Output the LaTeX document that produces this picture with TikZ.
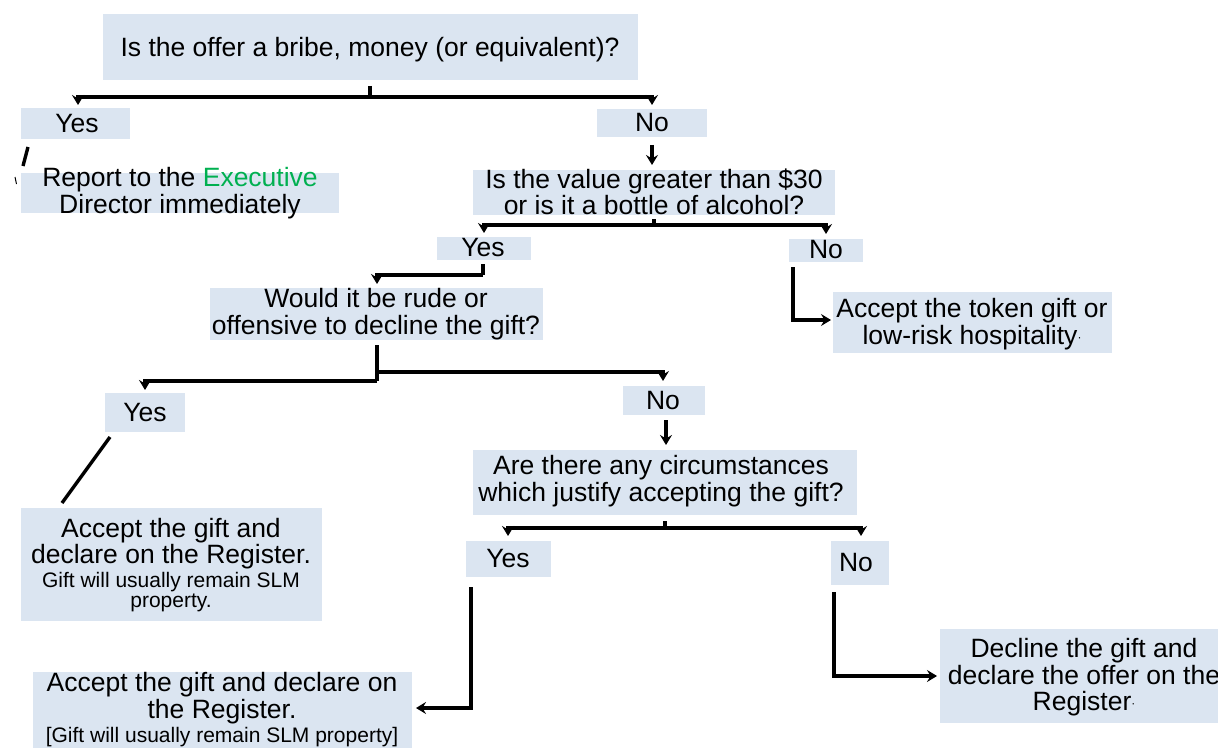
\documentclass[tikz,border=0pt]{standalone}
\usepackage{fontspec}
\setmainfont{Liberation Sans}
\usetikzlibrary{arrows.meta}
\definecolor{boxblue}{HTML}{DBE5F1}
\definecolor{execgreen}{HTML}{00B050}
\tikzset{
  box/.style={fill=boxblue, draw=none, inner sep=0pt, outer sep=0pt},
  txt/.style={align=center, inner sep=0pt, outer sep=0pt, font=\fontsize{26.5}{26.5}\selectfont},
  conn/.style={line width=3.4pt, line cap=butt, line join=miter},
  arr/.style={conn, -{Stealth[length=10pt,width=12pt,inset=3.5pt]}},
}
\newcommand{\smalltxt}{\fontsize{21}{22}\selectfont}
\newcommand{\mdot}{\raisebox{3pt}{\fontsize{12}{12}\selectfont ·}}
\begin{document}
\begin{tikzpicture}[x=1pt,y=-1pt]
\useasboundingbox (0,0) rectangle (1218,749);

% boxes
\node[box,minimum width=535pt,minimum height=66pt] (q1) at (370.5,47) {};
\node[box,minimum width=109pt,minimum height=31pt] (yes1) at (75.5,123.5) {};
\node[box,minimum width=110pt,minimum height=28pt] (no1) at (652,123) {};
\node[box,minimum width=318pt,minimum height=40pt] (rep) at (180,193) {};
\node[box,minimum width=362pt,minimum height=45pt] (q2) at (654,192.5) {};
\node[box,minimum width=94pt,minimum height=23pt] (yes2) at (484,248.5) {};
\node[box,minimum width=74pt,minimum height=23pt] (no2) at (826,250.5) {};
\node[box,minimum width=279pt,minimum height=61pt] (tok) at (972.5,322.5) {};
\node[box,minimum width=333pt,minimum height=52pt] (q3) at (376.5,314) {};
\node[box,minimum width=80pt,minimum height=39pt] (yes3) at (145,412.5) {};
\node[box,minimum width=82pt,minimum height=29pt] (no3) at (664,400.5) {};
\node[box,minimum width=384pt,minimum height=65pt] (q4) at (665,482.5) {};
\node[box,minimum width=85pt,minimum height=36pt] (yes4) at (508.5,559) {};
\node[box,minimum width=58pt,minimum height=44pt] (no4) at (860,563) {};
\node[box,minimum width=301pt,minimum height=113pt] (acc1) at (171.5,564.5) {};
\node[box,minimum width=379pt,minimum height=76pt] (acc2) at (222.5,710) {};
\node[box,minimum width=278pt,minimum height=94pt] (dec) at (1079,676) {};

% texts
\node[txt] (q1t) at (370,50) {Is the offer a bribe, money (or equivalent)?};
\node[txt] (yes1t) at (77,123.4) {Yes};
\node[txt] (no1t) at (652,122.5) {No};
\node[txt] (rept) at (180,193) {Report to the \textcolor{execgreen}{Executive}\\Director immediately};
\node[txt] (q2t) at (654,192) {Is the value greater than \$30\\or is it a bottle of alcohol?};
\node[txt] (yes2t) at (483,247.5) {Yes};
\node[txt] (no2t) at (826,249.5) {No};
\node[txt] (tokt) at (972,324) {Accept the token gift or\\low-risk hospitality\mdot};
\node[txt] (q3t) at (376,314) {Would it be rude or\\offensive to decline the gift?};
\node[txt] (yes3t) at (145,412.5) {Yes};
\node[txt] (no3t) at (663,400.5) {No};
\node[txt] (q4t) at (661,481) {Are there any circumstances\\which justify accepting the gift?};
\node[txt] (yes4t) at (508,559) {Yes};
\node[txt] (no4t) at (856,563) {No};
\node[txt] (acc1t) at (171,565) {Accept the gift and\\declare on the Register.\\[-3pt]{\smalltxt Gift will usually remain SLM}\\[-6pt]{\smalltxt property.}};
\node[txt] (acc2t) at (222,710) {Accept the gift and declare on\\the Register.\\[-2pt]{\smalltxt [Gift will usually remain SLM property]}};
\node[txt] (dect) at (1084,677.6) {Decline the gift and\\declare the offer on the\\Register\mdot};

% connector points
\coordinate (q1s) at (370,86);
\coordinate (q1j) at (370,97);
\coordinate (q1y) at (78,105);
\coordinate (q1n) at (652,105);
\coordinate (r1a) at (28,147);
\coordinate (r1b) at (23,166);
\coordinate (r1c) at (15,177);
\coordinate (r1d) at (16.5,184);
\coordinate (a2s) at (652,145);
\coordinate (a2e) at (652,165);
\coordinate (q2s) at (654,219);
\coordinate (q2j) at (654,225);
\coordinate (q2y) at (484,233);
\coordinate (q2n) at (826,234);
\coordinate (y2s) at (483,264);
\coordinate (y2j) at (483,275);
\coordinate (y2e) at (377,284);
\coordinate (n2s) at (793,267);
\coordinate (n2e) at (831,320);
\coordinate (q3s) at (377,345);
\coordinate (q3j) at (377,381);
\coordinate (q3y) at (145,390);
\coordinate (q3k) at (377,372);
\coordinate (q3n) at (663,381);
\coordinate (y3s) at (110,437);
\coordinate (y3e) at (62,503);
\coordinate (n3s) at (666,420);
\coordinate (n3e) at (666,445);
\coordinate (q4s) at (665,521);
\coordinate (q4j) at (665,528);
\coordinate (q4y) at (508,536);
\coordinate (q4n) at (861,536);
\coordinate (y4s) at (471,587);
\coordinate (y4e) at (416,708);
\coordinate (n4s) at (834,592);
\coordinate (n4e) at (937,676);

% connectors
\draw[conn] (q1s) -- (q1j);
\draw[arr] (q1j) -| (q1y);
\draw[arr] (q1j) -| (q1n);
\draw[conn] (r1a) -- (r1b);
\draw[line width=1pt] (r1c) -- (r1d);
\draw[arr] (a2s) -- (a2e);
\draw[conn] (q2s) -- (q2j);
\draw[arr] (q2j) -| (q2y);
\draw[arr] (q2j) -| (q2n);
\draw[conn] (y2s) -- (y2j);
\draw[arr] (y2j) -| (y2e);
\draw[arr] (n2s) |- (n2e);
\draw[conn] (q3s) -- (q3j);
\draw[arr] (q3j) -| (q3y);
\draw[arr] (q3k) -| (q3n);
\draw[conn] (y3s) -- (y3e);
\draw[arr] (n3s) -- (n3e);
\draw[conn] (q4s) -- (q4j);
\draw[arr] (q4j) -| (q4y);
\draw[arr] (q4j) -| (q4n);
\draw[arr] (y4s) |- (y4e);
\draw[arr] (n4s) |- (n4e);
\end{tikzpicture}
\end{document}
